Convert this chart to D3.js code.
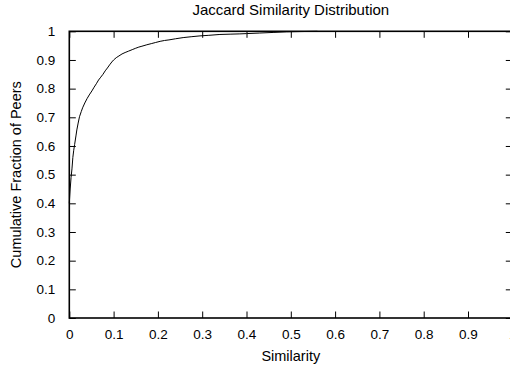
<!DOCTYPE html>
<html>
<head>
<meta charset="utf-8">
<script src="https://cdn.jsdelivr.net/npm/d3@7"></script>
<style>
  html, body { margin: 0; padding: 0; background: #fff; }
  svg { display: block; }
  text { font-family: "Liberation Sans", Arial, Helvetica, sans-serif; fill: #000; }
</style>
</head>
<body>
<svg id="chart" width="510" height="371"></svg>
<script>
// Empirical CDF of Jaccard similarity between peers
const similarity = [0, 0.002, 0.004, 0.006, 0.008, 0.010, 0.012, 0.015, 0.017, 0.020,
  0.023, 0.027, 0.030, 0.035, 0.040, 0.045, 0.051, 0.056, 0.061, 0.066,
  0.071, 0.076, 0.081, 0.086, 0.091, 0.096, 0.100, 0.106, 0.112, 0.119,
  0.126, 0.134, 0.142, 0.150, 0.157, 0.164, 0.175, 0.185, 0.195, 0.205,
  0.215, 0.225, 0.240, 0.257, 0.275, 0.295, 0.315, 0.340, 0.363, 0.385,
  0.400, 0.430, 0.460, 0.490, 0.520, 0.560];
const fraction = [0.40, 0.45, 0.49, 0.52, 0.56, 0.585, 0.605, 0.635, 0.656, 0.68,
  0.702, 0.72, 0.733, 0.750, 0.765, 0.778, 0.792, 0.805, 0.817, 0.830,
  0.840, 0.850, 0.862, 0.872, 0.883, 0.893, 0.900, 0.908, 0.914, 0.921,
  0.926, 0.931, 0.936, 0.941, 0.945, 0.948, 0.953, 0.957, 0.961, 0.965,
  0.968, 0.970, 0.974, 0.978, 0.981, 0.984, 0.986, 0.989, 0.990, 0.991,
  0.992, 0.994, 0.996, 0.998, 0.999, 1.0];

const xTicks = [0, 0.1, 0.2, 0.3, 0.4, 0.5, 0.6, 0.7, 0.8, 0.9, 1];
const yTicks = [0, 0.1, 0.2, 0.3, 0.4, 0.5, 0.6, 0.7, 0.8, 0.9, 1];

const title = "Jaccard Similarity Distribution";
const xLabel = "Similarity";
const yLabel = "Cumulative Fraction of Peers";

const svg = d3.select("#chart");
const plotLeft = 69.3, plotRight = 512.3, plotTop = 31.3, plotBottom = 318;
const tickLen = 6.5;
const tickFont = 13.5, labelFont = 14.5, titleFont = 15;

const x = d3.scaleLinear().domain([0, 1]).range([plotLeft, plotRight]);
const y = d3.scaleLinear().domain([0, 1]).range([plotBottom, plotTop]);

const fmt = d => d === 0 ? "0" : d === 1 ? "1" : d3.format(".1f")(d);

// bottom axis with labels, ticks pointing inward
const gx = svg.append("g")
  .attr("transform", `translate(0,${plotBottom})`)
  .call(d3.axisBottom(x).tickValues(xTicks).tickFormat(fmt).tickSize(-tickLen).tickPadding(11));

// left axis with labels
const gy = svg.append("g")
  .attr("transform", `translate(${plotLeft},0)`)
  .call(d3.axisLeft(y).tickValues(yTicks).tickFormat(fmt).tickSize(-tickLen).tickPadding(14));

// mirrored ticks on top and right
const gt = svg.append("g")
  .attr("transform", `translate(0,${plotTop})`)
  .call(d3.axisTop(x).tickValues(xTicks).tickFormat("").tickSize(-tickLen));
const gr = svg.append("g")
  .attr("transform", `translate(${plotRight},0)`)
  .call(d3.axisRight(y).tickValues(yTicks).tickFormat("").tickSize(-tickLen));

[gx, gy, gt, gr].forEach(g => {
  g.select(".domain").remove();
  g.selectAll(".tick line").attr("stroke", "#000").attr("stroke-width", 1);
  g.selectAll("text").attr("font-size", tickFont).attr("font-family", null).attr("fill", "#000");
});

// plot border
svg.append("rect")
  .attr("x", plotLeft).attr("y", plotTop)
  .attr("width", plotRight - plotLeft).attr("height", plotBottom - plotTop)
  .attr("fill", "none").attr("stroke", "#000").attr("stroke-width", 1.6);

// CDF curve
const pts = similarity.map((s, i) => [s, fraction[i]]);
svg.append("path")
  .datum(pts)
  .attr("fill", "none")
  .attr("stroke", "#000")
  .attr("stroke-width", 1)
  .attr("d", d3.line().x(d => x(d[0])).y(d => y(d[1])));

// titles
svg.append("text")
  .attr("x", (plotLeft + plotRight) / 2).attr("y", 15)
  .attr("text-anchor", "middle").attr("font-size", titleFont)
  .text(title);

svg.append("text")
  .attr("x", (plotLeft + plotRight) / 2).attr("y", 361)
  .attr("text-anchor", "middle").attr("font-size", labelFont)
  .text(xLabel);

svg.append("text")
  .attr("transform", `translate(21,${(plotTop + plotBottom) / 2}) rotate(-90)`)
  .attr("text-anchor", "middle").attr("font-size", labelFont)
  .text(yLabel);
</script>
</body>
</html>
